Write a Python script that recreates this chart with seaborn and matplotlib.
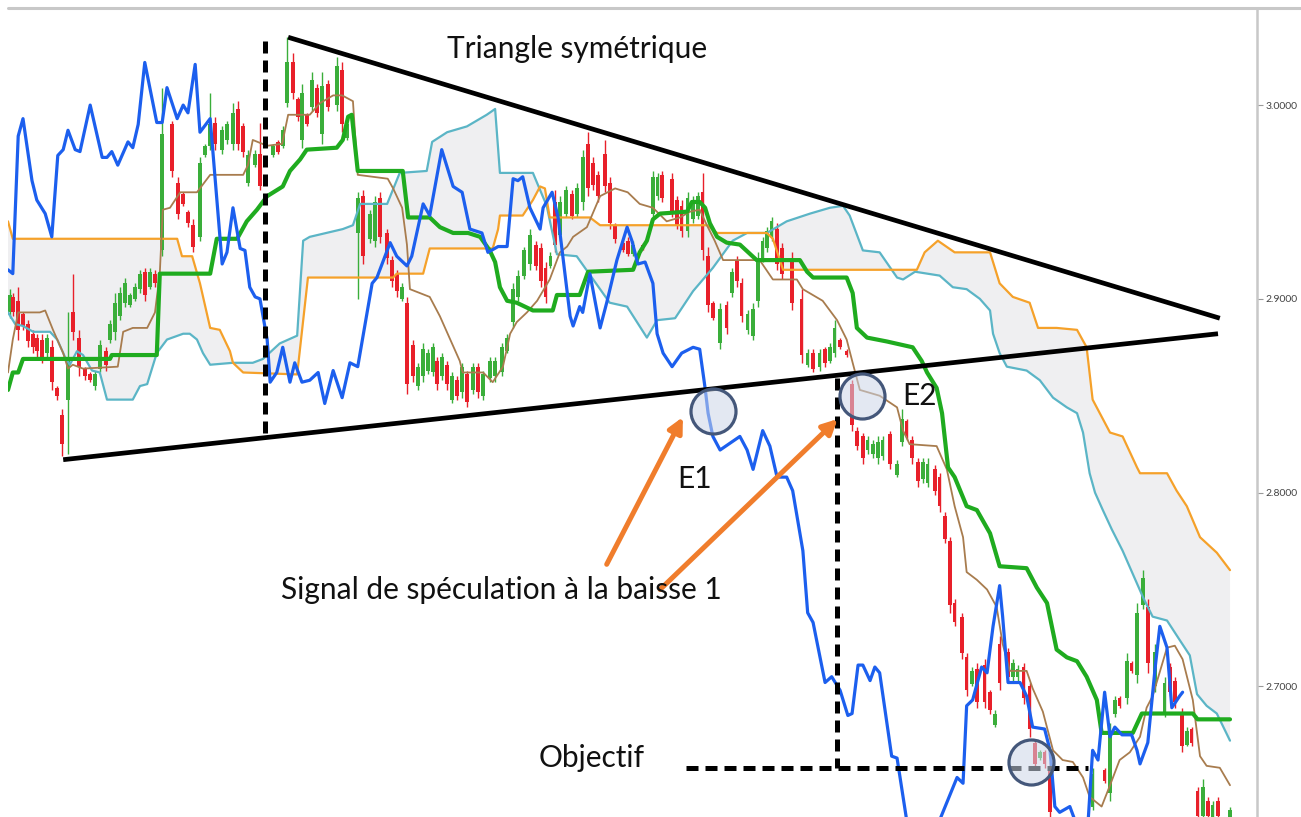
import numpy as np
import matplotlib
matplotlib.use("Agg")
import matplotlib.pyplot as plt
import seaborn as sns
from matplotlib.lines import Line2D
from matplotlib.patches import FancyArrowPatch
from matplotlib.ticker import FormatStrFormatter

sns.set_style("white")
plt.rcParams["font.family"] = ["Lato", "DejaVu Sans"]

# ichimoku lines: (session, price)
chikou = [(0, 2.915), (0.8, 2.913), (1.7, 2.984), (2.5, 2.993), (4, 2.961), (4.8, 2.951), (6.2, 2.944),
          (7.3, 2.932), (8.3, 2.974), (9.2, 2.977), (10, 2.987), (11.2, 2.977), (12, 2.976), (13.7, 3.000),
          (15.7, 2.973), (16.5, 2.973), (17.3, 2.976), (18.3, 2.969), (20, 2.981), (20.8, 2.978), (21.7, 2.990),
          (22.8, 3.022), (24.8, 2.991), (25.7, 2.991), (26.5, 3.009), (28.2, 2.993), (29.2, 3.000), (30, 2.996),
          (31.2, 3.021), (32, 2.986), (33.7, 2.993), (35.7, 2.918), (36.5, 2.924), (37.5, 2.947), (38.7, 2.926),
          (39.5, 2.925), (40.3, 2.906), (41.2, 2.901), (42, 2.900), (43.2, 2.879), (43.7, 2.857), (44.8, 2.862),
          (45.8, 2.875), (47, 2.857), (47.8, 2.867), (49, 2.857), (50.3, 2.858), (51.7, 2.862), (52.8, 2.846),
          (54.2, 2.863), (55.7, 2.849), (57, 2.867), (58.3, 2.865), (60.7, 2.908), (61.5, 2.911), (63.7, 2.929),
          (64.8, 2.922), (66.5, 2.917), (67.3, 2.922), (69.2, 2.949), (70.3, 2.943), (72.3, 2.977), (74.2, 2.958),
          (75.7, 2.955), (77, 2.936), (79, 2.934), (80, 2.924), (81.7, 2.927), (83.2, 2.927), (84.2, 2.962),
          (85, 2.961), (85.8, 2.963), (87, 2.947), (88.7, 2.936), (89.2, 2.947), (90.7, 2.955), (91.7, 2.942),
          (93.7, 2.891), (94.2, 2.886), (95.3, 2.896), (95.8, 2.893), (97, 2.913), (98.7, 2.885), (99.8, 2.898),
          (101.5, 2.920), (103.2, 2.937), (104, 2.930), (105, 2.918), (106.2, 2.919), (107.5, 2.908),
          (108.2, 2.882), (109.2, 2.872), (110.7, 2.865), (112.3, 2.872), (114.2, 2.875), (115.3, 2.874),
          (116.2, 2.854), (116.7, 2.841), (117.5, 2.829), (118.7, 2.822), (122, 2.829), (123.2, 2.822),
          (124.2, 2.812), (125.8, 2.832), (127, 2.824), (128.2, 2.808), (129.8, 2.808), (130.8, 2.801),
          (132.5, 2.770), (133.3, 2.738), (134.2, 2.733), (136.2, 2.702), (137.3, 2.705), (138.7, 2.698),
          (140, 2.685), (140.7, 2.686), (141.7, 2.711), (142.5, 2.711), (143.7, 2.703), (144.5, 2.710),
          (145.3, 2.707), (147.3, 2.664), (148.2, 2.663), (149.8, 2.631), (152.5, 2.605), (155.3, 2.631),
          (158.2, 2.653), (159.2, 2.650), (159.8, 2.690), (160.8, 2.693), (162.3, 2.710), (163.2, 2.707),
          (164.2, 2.731), (165.3, 2.752), (165.8, 2.736), (166.7, 2.702), (167.5, 2.702), (168.7, 2.702),
          (169.8, 2.695), (170.8, 2.679), (172.8, 2.678), (173.7, 2.667), (174.5, 2.638), (175.3, 2.635),
          (177, 2.638), (178.2, 2.628), (180, 2.628), (180.8, 2.667), (181.7, 2.662), (182.8, 2.697),
          (183.7, 2.674), (184.5, 2.679), (185.7, 2.675), (187.3, 2.675), (188.2, 2.667), (188.7, 2.660),
          (190, 2.671), (191.2, 2.709), (192, 2.731), (193.2, 2.720), (194, 2.689), (195.3, 2.695), (195.8, 2.697)]

kijun = [(0, 2.853), (0.8, 2.862), (1.7, 2.862), (2.5, 2.869), (17, 2.869), (17.3, 2.871), (24.8, 2.871),
         (25.3, 2.913), (33.7, 2.913), (34.8, 2.931), (38.2, 2.931), (39.8, 2.940), (41.5, 2.946), (43.2, 2.953),
         (45.8, 2.958), (47, 2.966), (48.7, 2.972), (49.8, 2.977), (54.8, 2.978), (55.8, 2.982), (56.7, 2.994),
         (57.3, 2.995), (58.3, 2.966), (65.8, 2.966), (66.7, 2.942), (70.3, 2.942), (72, 2.937), (74.2, 2.934),
         (76.7, 2.934), (78.7, 2.932), (80.3, 2.925), (81.2, 2.919), (82, 2.906), (83.2, 2.899), (84.8, 2.898),
         (87.5, 2.894), (90.8, 2.894), (91.5, 2.902), (95.3, 2.902), (96.7, 2.914), (104.2, 2.915),
         (105.3, 2.924), (106.5, 2.930), (107.5, 2.941), (108.7, 2.944), (113.2, 2.945), (114, 2.950),
         (115.3, 2.950), (116.2, 2.947), (117, 2.939), (118.2, 2.932), (119.8, 2.929), (122, 2.928),
         (124.8, 2.920), (132, 2.920), (133.2, 2.914), (134.2, 2.911), (139.8, 2.911), (140.8, 2.903),
         (141.5, 2.885), (143.2, 2.880), (146.5, 2.878), (150.8, 2.875), (152.3, 2.868), (153.2, 2.862),
         (154.8, 2.854), (155.7, 2.841), (156.7, 2.813), (157.8, 2.808), (159.8, 2.793), (161.5, 2.791),
         (163.7, 2.779), (165.3, 2.762), (169.8, 2.761), (171.5, 2.751), (173.2, 2.743), (174.8, 2.719),
         (176.5, 2.715), (178.2, 2.713), (179.8, 2.705), (181.5, 2.693), (182.3, 2.676), (187.5, 2.676),
         (189, 2.686), (197.5, 2.686), (198.3, 2.683), (203.7, 2.683)]

tenkan = [(0, 2.862), (0.8, 2.879), (1.7, 2.893), (5.3, 2.893), (6.2, 2.894), (7.5, 2.884), (9.2, 2.872),
          (10, 2.864), (10.8, 2.866), (12.5, 2.864), (18.3, 2.865), (19.2, 2.883), (20.8, 2.885), (23.2, 2.885),
          (24.5, 2.893), (25.3, 2.913), (25.8, 2.946), (27, 2.947), (28.7, 2.955), (31.5, 2.955), (33.7, 2.964),
          (39.2, 2.964), (40, 2.969), (40.8, 2.982), (43.2, 2.979), (45.7, 2.980), (46.7, 2.995), (50.3, 2.995),
          (52, 3.001), (54.2, 3.005), (55.7, 3.005), (57.5, 3.002), (58.3, 2.964), (63.3, 2.962), (64.2, 2.957),
          (65.7, 2.947), (66.5, 2.928), (67, 2.905), (70.3, 2.901), (72, 2.891), (75.3, 2.868), (75.8, 2.862),
          (79.2, 2.862), (80.8, 2.857), (82.5, 2.865), (83.7, 2.882), (84.8, 2.888), (86.5, 2.893), (88.2, 2.899),
          (90.3, 2.910), (92, 2.924), (93.2, 2.927), (94.2, 2.932), (96.5, 2.937), (98.7, 2.953), (101.2, 2.957),
          (103.3, 2.955), (105.3, 2.949), (107.5, 2.947), (109.8, 2.940), (112, 2.942), (113.7, 2.945),
          (115.3, 2.946), (116.5, 2.938), (117.8, 2.930), (119.2, 2.920), (125.3, 2.920), (127.5, 2.910),
          (131.5, 2.910), (132.5, 2.905), (135.8, 2.899), (138.2, 2.889), (139.8, 2.879), (140.8, 2.867),
          (142, 2.853), (145.3, 2.850), (148.2, 2.844), (149.2, 2.832), (150.3, 2.825), (154.8, 2.824),
          (156.5, 2.812), (157.8, 2.793), (159.2, 2.777), (159.8, 2.759), (161.5, 2.755), (163.2, 2.750),
          (164.8, 2.741), (165.8, 2.722), (167, 2.708), (169.8, 2.708), (170.8, 2.699), (172.5, 2.687),
          (174.2, 2.667), (175.8, 2.662), (177.5, 2.661), (179.2, 2.653), (180.3, 2.643), (182.3, 2.638),
          (183.7, 2.649), (185.3, 2.662), (187, 2.666), (188.7, 2.674), (189.8, 2.689), (190.8, 2.695),
          (193.2, 2.720), (194.5, 2.721), (195.8, 2.714), (197.5, 2.693), (198.7, 2.664), (199.8, 2.659),
          (202, 2.658), (203.7, 2.649)]

senkou_b = [(0, 2.940), (0.8, 2.931), (28.2, 2.931), (29, 2.922), (30.7, 2.922), (32, 2.908), (33.7, 2.885),
            (35.3, 2.884), (37, 2.873), (37.5, 2.867), (39.2, 2.862), (48.2, 2.861), (50, 2.911), (64.2, 2.911),
            (64.8, 2.913), (69.2, 2.913), (70.3, 2.926), (80.8, 2.926), (81.7, 2.936), (82, 2.943), (85.8, 2.943),
            (87.5, 2.951), (88.7, 2.958), (89.5, 2.957), (90.3, 2.942), (97, 2.942), (98.7, 2.938), (116.5, 2.938),
            (118.2, 2.934), (126.5, 2.934), (127.5, 2.931), (129.2, 2.915), (151.5, 2.915), (152.8, 2.924),
            (155, 2.930), (157.8, 2.924), (163.7, 2.924), (165.3, 2.908), (167.5, 2.901), (170.3, 2.898),
            (171.7, 2.885), (174.8, 2.885), (178.2, 2.884), (179.8, 2.875), (180.8, 2.848), (183.7, 2.831),
            (185.8, 2.829), (188.2, 2.813), (188.7, 2.810), (193.2, 2.810), (194.8, 2.801), (196.5, 2.793),
            (198.7, 2.777), (201.5, 2.769), (203.7, 2.760)]

senkou_a = [(0, 2.893), (1.2, 2.887), (2.5, 2.886), (4.2, 2.883), (7, 2.883), (8.2, 2.879), (9.5, 2.870),
            (10.3, 2.866), (11.5, 2.873), (12.5, 2.871), (14, 2.863), (15.3, 2.862), (16.5, 2.848), (20.8, 2.848),
            (22, 2.855), (23.2, 2.856), (24.8, 2.872), (26.5, 2.879), (29.2, 2.882), (30.3, 2.882), (31.5, 2.879),
            (32.5, 2.872), (33.7, 2.866), (37.5, 2.867), (40.8, 2.867), (42.5, 2.869), (45.3, 2.877), (48.2, 2.881),
            (49.2, 2.930), (50.3, 2.932), (55.8, 2.936), (57.5, 2.938), (58.7, 2.949), (63.2, 2.949), (65.3, 2.965),
            (69.8, 2.966), (70.7, 2.981), (73.2, 2.986), (76.5, 2.989), (79.8, 2.995), (81.2, 2.998), (82, 2.965),
            (87.5, 2.965), (89.8, 2.948), (91.5, 2.923), (94.8, 2.922), (100.3, 2.898), (103.2, 2.896),
            (106.5, 2.880), (108.2, 2.889), (111.2, 2.890), (114.2, 2.904), (117.5, 2.916), (120.8, 2.930),
            (123.2, 2.934), (126.5, 2.934), (129.8, 2.940), (133.7, 2.944), (137, 2.947), (139.2, 2.948),
            (140.3, 2.943), (142.5, 2.925), (145.3, 2.924), (148.2, 2.911), (149.2, 2.910), (151.2, 2.914),
            (155.3, 2.912), (157.5, 2.906), (159.8, 2.905), (162, 2.900), (163.7, 2.894), (164.2, 2.882),
            (165.3, 2.872), (166.5, 2.865), (169.8, 2.863), (172, 2.858), (174.2, 2.849), (176.5, 2.844),
            (178.2, 2.841), (179.2, 2.831), (180.3, 2.810), (181.2, 2.800), (182.5, 2.791), (184, 2.781),
            (185.8, 2.770), (187.5, 2.758), (189.2, 2.746), (190.8, 2.736), (193.2, 2.734), (195.3, 2.724),
            (197, 2.716), (198.2, 2.696), (199.8, 2.690), (201.5, 2.686), (203.7, 2.672)]

# candles: (session, open, high, low, close)
candles = [
    (0.3, 2.893, 2.905, 2.890, 2.902), (0.8, 2.901, 2.903, 2.891, 2.893), (1.7, 2.899, 2.906, 2.879, 2.884),
    (2.5, 2.892, 2.893, 2.884, 2.886), (3.3, 2.887, 2.889, 2.875, 2.878), (4.2, 2.882, 2.884, 2.872, 2.875),
    (4.8, 2.880, 2.882, 2.870, 2.873), (5.7, 2.879, 2.882, 2.867, 2.870), (6.5, 2.872, 2.882, 2.870, 2.880),
    (7.3, 2.875, 2.879, 2.853, 2.857), (8.2, 2.854, 2.855, 2.848, 2.850), (9.0, 2.840, 2.843, 2.819, 2.825),
    (10.0, 2.848, 2.893, 2.820, 2.870), (10.8, 2.893, 2.913, 2.879, 2.883), (11.8, 2.880, 2.884, 2.860, 2.865),
    (12.8, 2.864, 2.865, 2.858, 2.860), (13.7, 2.861, 2.862, 2.857, 2.858), (14.5, 2.855, 2.863, 2.853, 2.861),
    (15.3, 2.864, 2.879, 2.862, 2.876), (16.3, 2.873, 2.875, 2.863, 2.866), (17.0, 2.879, 2.889, 2.877, 2.887),
    (17.8, 2.883, 2.903, 2.879, 2.898), (18.7, 2.891, 2.906, 2.889, 2.903), (19.5, 2.898, 2.911, 2.896, 2.908),
    (20.3, 2.897, 2.903, 2.896, 2.902), (21.2, 2.900, 2.908, 2.899, 2.906), (22.0, 2.905, 2.915, 2.903, 2.913),
    (22.8, 2.914, 2.916, 2.899, 2.902), (23.7, 2.906, 2.916, 2.905, 2.914), (24.5, 2.913, 2.915, 2.906, 2.908),
    (25.7, 2.925, 3.009, 2.922, 2.985), (27.3, 2.990, 2.992, 2.963, 2.966), (28.3, 2.960, 2.963, 2.941, 2.944),
    (29.2, 2.954, 2.955, 2.948, 2.949), (30.0, 2.945, 2.946, 2.937, 2.939), (30.8, 2.938, 2.941, 2.924, 2.927),
    (32.0, 2.932, 2.973, 2.930, 2.970), (32.8, 2.974, 2.980, 2.973, 2.979), (33.7, 2.979, 3.006, 2.977, 2.990),
    (34.5, 2.991, 2.994, 2.977, 2.980), (35.7, 2.977, 2.989, 2.975, 2.987), (36.5, 2.982, 2.992, 2.980, 2.990),
    (37.5, 2.980, 3.001, 2.977, 2.996), (38.3, 2.998, 3.002, 2.977, 2.980), (39.2, 2.989, 2.991, 2.973, 2.976),
    (40.0, 2.960, 2.977, 2.958, 2.974), (41.2, 2.969, 2.977, 2.968, 2.975), (42.0, 2.975, 2.991, 2.956, 2.958),
    (44.2, 2.974, 2.980, 2.973, 2.979), (45.0, 2.981, 2.982, 2.975, 2.976), (45.8, 2.979, 2.989, 2.978, 2.987),
    (46.5, 3.001, 3.035, 2.999, 3.022), (47.5, 3.022, 3.027, 3.003, 3.006), (48.3, 3.003, 3.004, 2.992, 2.994),
    (49.0, 2.982, 3.011, 2.978, 3.006), (49.8, 2.995, 2.996, 2.989, 2.990), (50.7, 2.999, 3.017, 2.997, 3.013),
    (51.5, 3.009, 3.011, 2.994, 2.996), (52.3, 2.985, 3.017, 2.980, 3.010), (53.3, 3.011, 3.013, 2.997, 2.999),
    (54.8, 3.000, 3.025, 2.997, 3.020), (55.7, 3.018, 3.022, 2.986, 2.990), (56.5, 2.983, 2.992, 2.982, 2.990),
    (58.3, 2.934, 2.955, 2.900, 2.952), (59.2, 2.953, 2.956, 2.918, 2.922), (60.3, 2.931, 2.946, 2.929, 2.944),
    (61.2, 2.930, 2.953, 2.927, 2.950), (62.0, 2.952, 2.955, 2.929, 2.932), (63.2, 2.934, 2.936, 2.918, 2.921),
    (64.0, 2.920, 2.922, 2.906, 2.909), (64.8, 2.913, 2.915, 2.901, 2.904), (65.7, 2.900, 2.908, 2.899, 2.906),
    (66.5, 2.898, 2.901, 2.851, 2.856), (67.5, 2.876, 2.879, 2.857, 2.860), (68.3, 2.855, 2.867, 2.853, 2.865),
    (69.2, 2.860, 2.877, 2.857, 2.874), (70.0, 2.863, 2.874, 2.861, 2.872), (70.8, 2.862, 2.877, 2.860, 2.875),
    (71.5, 2.868, 2.870, 2.853, 2.856), (72.3, 2.860, 2.872, 2.858, 2.870), (73.2, 2.866, 2.868, 2.853, 2.856),
    (74.0, 2.848, 2.862, 2.846, 2.860), (74.8, 2.858, 2.860, 2.848, 2.850), (75.7, 2.852, 2.867, 2.849, 2.865),
    (76.5, 2.861, 2.863, 2.844, 2.847), (77.5, 2.853, 2.867, 2.851, 2.865), (78.3, 2.865, 2.867, 2.849, 2.852),
    (79.2, 2.850, 2.863, 2.848, 2.861), (80.3, 2.859, 2.870, 2.857, 2.868), (81.2, 2.860, 2.870, 2.857, 2.868),
    (82.3, 2.862, 2.877, 2.860, 2.875), (83.2, 2.873, 2.882, 2.872, 2.880), (84.2, 2.888, 2.908, 2.885, 2.905),
    (85.0, 2.901, 2.915, 2.899, 2.912), (86.0, 2.912, 2.927, 2.910, 2.925), (87.0, 2.918, 2.936, 2.915, 2.933),
    (88.0, 2.928, 2.930, 2.915, 2.917), (88.8, 2.926, 2.929, 2.906, 2.909), (89.6, 2.916, 2.919, 2.898, 2.901),
    (90.4, 2.917, 2.924, 2.916, 2.922), (91.2, 2.950, 2.956, 2.924, 2.928), (92.0, 2.933, 2.953, 2.930, 2.950),
    (93.0, 2.944, 2.958, 2.942, 2.956), (94.0, 2.954, 2.956, 2.941, 2.943), (94.8, 2.944, 2.960, 2.942, 2.957),
    (95.8, 2.950, 2.977, 2.946, 2.973), (96.7, 2.980, 2.986, 2.953, 2.957), (97.5, 2.970, 2.973, 2.956, 2.959),
    (98.3, 2.964, 2.966, 2.950, 2.953), (99.5, 2.975, 2.982, 2.955, 2.958), (100.3, 2.960, 2.963, 2.936, 2.939),
    (101.2, 2.938, 2.939, 2.929, 2.931), (102.5, 2.929, 2.930, 2.924, 2.925), (103.3, 2.930, 2.932, 2.922, 2.923),
    (104.2, 2.923, 2.930, 2.922, 2.928), (105.8, 2.928, 2.929, 2.925, 2.926), (107.5, 2.944, 2.966, 2.941, 2.963),
    (108.3, 2.953, 2.965, 2.951, 2.963), (109.0, 2.964, 2.966, 2.950, 2.952), (110.7, 2.962, 2.965, 2.942, 2.945),
    (111.5, 2.951, 2.953, 2.936, 2.938), (112.3, 2.948, 2.951, 2.932, 2.935), (113.3, 2.935, 2.955, 2.932, 2.952),
    (114.2, 2.941, 2.953, 2.939, 2.951), (115.0, 2.943, 2.955, 2.941, 2.953), (115.8, 2.955, 2.965, 2.920, 2.925),
    (116.7, 2.922, 2.927, 2.893, 2.897), (117.5, 2.898, 2.899, 2.889, 2.890), (118.7, 2.877, 2.898, 2.874, 2.895),
    (119.8, 2.897, 2.899, 2.882, 2.885), (120.7, 2.903, 2.916, 2.901, 2.914), (121.5, 2.920, 2.922, 2.906, 2.909),
    (122.3, 2.908, 2.911, 2.888, 2.891), (123.3, 2.884, 2.894, 2.882, 2.892), (124.2, 2.881, 2.898, 2.879, 2.895),
    (125.0, 2.899, 2.924, 2.896, 2.920), (125.8, 2.921, 2.932, 2.919, 2.930), (126.5, 2.926, 2.937, 2.924, 2.935),
    (127.3, 2.932, 2.942, 2.930, 2.940), (128.2, 2.936, 2.939, 2.915, 2.918), (129.0, 2.926, 2.929, 2.910, 2.913),
    (130.7, 2.920, 2.924, 2.894, 2.898), (132.3, 2.900, 2.905, 2.867, 2.871), (133.3, 2.866, 2.874, 2.865, 2.872),
    (134.2, 2.872, 2.874, 2.862, 2.864), (135.3, 2.865, 2.874, 2.863, 2.872), (136.2, 2.874, 2.875, 2.865, 2.867),
    (137.0, 2.868, 2.877, 2.867, 2.875), (137.8, 2.872, 2.889, 2.870, 2.885), (138.7, 2.879, 2.880, 2.874, 2.875),
    (139.8, 2.873, 2.874, 2.870, 2.871), (140.7, 2.856, 2.858, 2.832, 2.835), (141.5, 2.832, 2.834, 2.822, 2.824),
    (142.5, 2.829, 2.831, 2.815, 2.818), (143.3, 2.822, 2.829, 2.820, 2.827), (144.2, 2.820, 2.827, 2.818, 2.825),
    (145.0, 2.818, 2.829, 2.815, 2.826), (145.8, 2.819, 2.829, 2.817, 2.827), (147.0, 2.830, 2.832, 2.812, 2.815),
    (148.2, 2.809, 2.817, 2.808, 2.815), (149.0, 2.826, 2.843, 2.824, 2.838), (149.8, 2.837, 2.838, 2.827, 2.829),
    (150.7, 2.827, 2.829, 2.815, 2.818), (151.7, 2.816, 2.818, 2.803, 2.806), (152.5, 2.807, 2.818, 2.805, 2.816),
    (153.3, 2.805, 2.818, 2.803, 2.815), (154.5, 2.812, 2.814, 2.799, 2.801), (155.3, 2.808, 2.810, 2.790, 2.793),
    (156.2, 2.788, 2.790, 2.774, 2.776), (157.0, 2.775, 2.777, 2.738, 2.742), (157.8, 2.743, 2.745, 2.731, 2.733),
    (159.0, 2.736, 2.738, 2.714, 2.717), (159.8, 2.715, 2.717, 2.695, 2.698), (160.7, 2.701, 2.710, 2.700, 2.708),
    (161.5, 2.709, 2.712, 2.689, 2.692), (162.8, 2.711, 2.714, 2.689, 2.692), (163.7, 2.697, 2.698, 2.686, 2.688),
    (164.5, 2.680, 2.688, 2.679, 2.686), (165.3, 2.722, 2.726, 2.698, 2.702), (166.7, 2.718, 2.720, 2.702, 2.705),
    (167.5, 2.705, 2.714, 2.703, 2.712), (168.3, 2.705, 2.711, 2.703, 2.709), (169.3, 2.710, 2.712, 2.691, 2.694),
    (170.3, 2.700, 2.702, 2.674, 2.678), (171.2, 2.671, 2.672, 2.658, 2.660), (172.0, 2.663, 2.667, 2.662, 2.666),
    (172.8, 2.666, 2.667, 2.658, 2.660), (173.7, 2.659, 2.661, 2.630, 2.635), (180.8, 2.638, 2.658, 2.636, 2.655),
    (182.8, 2.657, 2.658, 2.650, 2.651), (183.7, 2.645, 2.681, 2.641, 2.677), (184.5, 2.686, 2.695, 2.684, 2.693),
    (185.3, 2.694, 2.695, 2.689, 2.690), (186.5, 2.694, 2.717, 2.691, 2.713), (187.3, 2.712, 2.713, 2.707, 2.708),
    (188.2, 2.706, 2.743, 2.702, 2.738), (189.2, 2.742, 2.760, 2.740, 2.756), (190.0, 2.741, 2.745, 2.707, 2.712),
    (191.2, 2.700, 2.722, 2.697, 2.718), (192.8, 2.686, 2.705, 2.684, 2.702), (193.7, 2.710, 2.712, 2.695, 2.697),
    (194.5, 2.703, 2.705, 2.689, 2.692), (195.7, 2.687, 2.689, 2.666, 2.669), (196.5, 2.670, 2.679, 2.669, 2.677),
    (197.3, 2.678, 2.679, 2.669, 2.671), (198.3, 2.646, 2.648, 2.630, 2.633), (199.2, 2.633, 2.652, 2.630, 2.648),
    (200.0, 2.641, 2.643, 2.630, 2.633), (200.8, 2.632, 2.641, 2.630, 2.639), (201.7, 2.641, 2.643, 2.630, 2.633),
    (203.7, 2.632, 2.638, 2.630, 2.636),
]

# annotations (session, price)
triangle_top = [(46.7, 3.035), (202.0, 2.890)]
triangle_bottom = [(9.2, 2.817), (201.7, 2.882)]
breakout_1 = [(42.8, 3.033), (42.8, 2.829)]
breakout_2 = [(138.2, 2.859), (138.2, 2.658)]
objective = [(113.0, 2.658), (180.0, 2.658)]
circles = [(117.5, 2.842), (142.3, 2.850), (170.5, 2.661)]
arrows = [((99.8, 2.763), (112.5, 2.839)), ((108.7, 2.750), (138.3, 2.838))]
labels = [("Triangle symétrique", 94.8, 3.029), ("E1", 114.5, 2.807), ("E2", 152.0, 2.850),
          ("Signal de spéculation à la baisse 1", 82.3, 2.750), ("Objectif", 97.3, 2.663)]
price_ticks = [2.7, 2.8, 2.9, 3.0]


def xy(pairs):
    a = np.array(pairs, dtype=float)
    return a[:, 0], a[:, 1]


fig = plt.figure(figsize=(13.01, 8.17), dpi=100)
ax = fig.add_axes([8 / 1301, 0, 1249 / 1301, 809 / 817])
ax.set_xlim(0, 208.2)
ax.set_ylim(2.6326, 3.0501)

# cloud between the two senkou spans
bx, by = xy(senkou_b)
axx, ayy = xy(senkou_a)
ax.fill(np.r_[bx, axx[::-1]], np.r_[by, ayy[::-1]], color="#efeff1", lw=0, zorder=1)

# candles
cd = np.array(candles)
ct, co, ch, cl, cc = cd.T
up = cc >= co
ccol = np.where(up, "#3aae3a", "#e8202a")
ax.vlines(ct, cl, ch, colors=ccol, lw=1.0, zorder=2)
ax.bar(ct, np.maximum(np.abs(cc - co), 0.0015), bottom=np.minimum(co, cc), width=0.6,
       color=ccol, linewidth=0, zorder=2)

line_styles = [
    (senkou_a, "#5bb5c6", 1.6, 3),
    (senkou_b, "#f5a12a", 1.6, 3),
    (tenkan, "#a87c4e", 1.3, 3.5),
    (kijun, "#1fab1f", 3.0, 4),
    (chikou, "#1c5fee", 2.3, 5),
]
for pairs, col, lw, z in line_styles:
    x, y = xy(pairs)
    sns.lineplot(x=x, y=y, sort=False, estimator=None, color=col, linewidth=lw, ax=ax, zorder=z)

for pairs in [triangle_top, triangle_bottom]:
    x, y = xy(pairs)
    ax.plot(x, y, color="black", lw=3.4, solid_capstyle="butt", zorder=6)
for pairs in [breakout_1, breakout_2, objective]:
    x, y = xy(pairs)
    ax.plot(x, y, color="black", lw=3.6, dashes=(2.4, 1.4), dash_capstyle="butt", zorder=6)

cx, cy = xy(circles)
ax.scatter(cx, cy, s=1050, facecolor=(0.80, 0.84, 0.91, 0.55), edgecolor="#44577a",
           linewidth=2.3, zorder=7)

for (x0, y0), (x1, y1) in arrows:
    ax.add_patch(FancyArrowPatch((x0, y0), (x1, y1), arrowstyle="-|>", mutation_scale=22,
                                 color="#f07d2c", lw=3.6, shrinkA=0, shrinkB=0, zorder=7))

for txt, x, y in labels:
    ax.text(x, y, txt, ha="center", va="center", fontsize=21.5, color="#111111", zorder=8)

# right price axis
ax.yaxis.tick_right()
ax.set_yticks(price_ticks)
ax.yaxis.set_major_formatter(FormatStrFormatter("%.4f"))
ax.tick_params(axis="y", labelsize=7.5, labelcolor="#444444", color="#999999",
               length=4, width=0.8, direction="out", pad=2)
ax.set_xticks([])
for side in ["left", "bottom", "top"]:
    ax.spines[side].set_visible(False)
ax.spines["right"].set_color("#c8c8c8")
ax.spines["right"].set_linewidth(1.8)
fig.add_artist(Line2D([8 / 1301, 1], [809 / 817, 809 / 817], color="#c8c8c8", lw=2.2))

fig.savefig("out.png", dpi=100)
